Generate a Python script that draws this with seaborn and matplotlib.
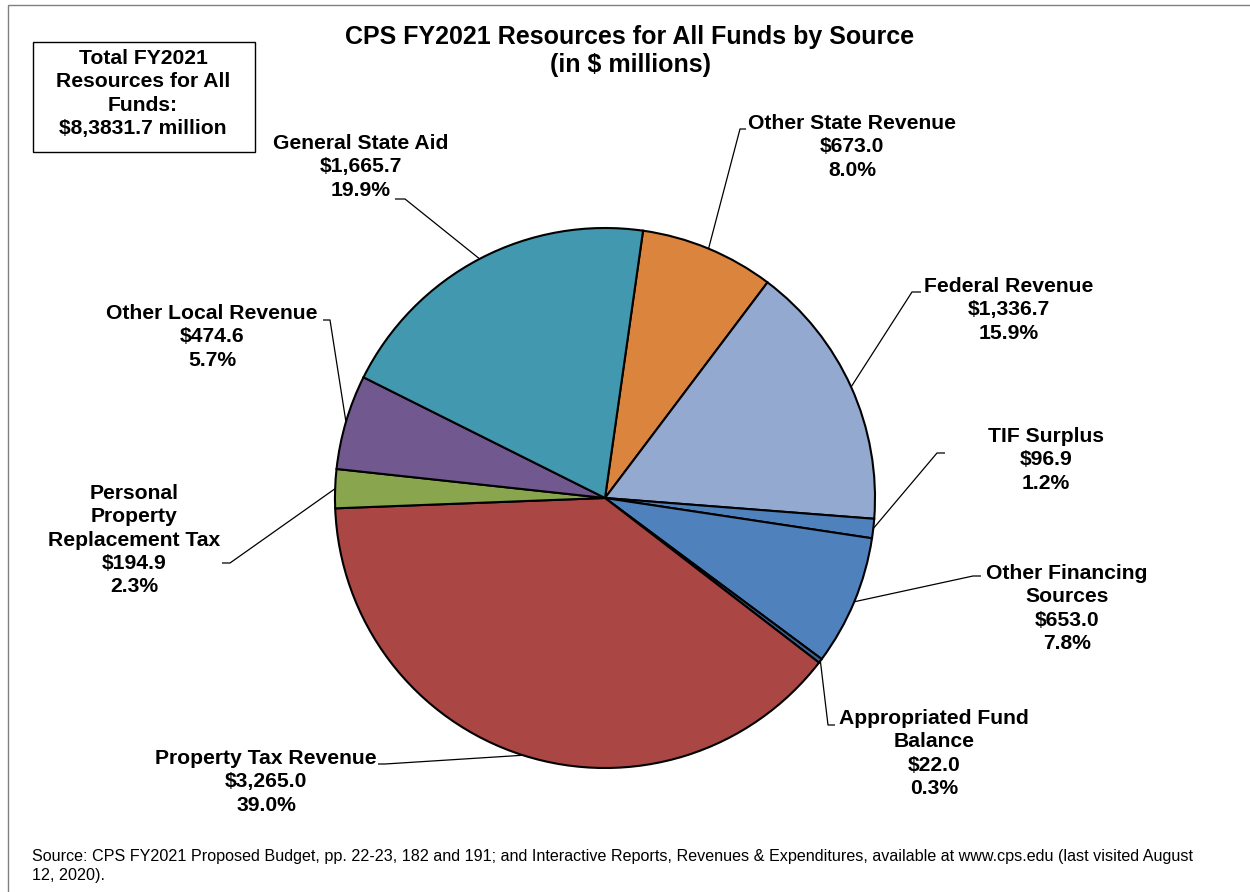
import matplotlib
matplotlib.use("Agg")
import matplotlib.pyplot as plt
import seaborn as sns
import numpy as np
from matplotlib.patches import Rectangle

# ---- data ----
categories = ["Other State Revenue", "Federal Revenue", "TIF Surplus",
              "Other Financing\nSources", "Appropriated Fund\nBalance",
              "Property Tax Revenue", "Personal\nProperty\nReplacement Tax",
              "Other Local Revenue", "General State Aid"]
values = [673.0, 1336.7, 96.9, 653.0, 22.0, 3265.0, 194.9, 474.6, 1665.7]
colors = ["#DB843D", "#93A9CF", "#4F81BD", "#4F81BD", "#3B6496",
          "#AA4643", "#89A54E", "#71588F", "#4198AF"]
title = "CPS FY2021 Resources for All Funds by Source\n(in $ millions)"
total_box = "Total FY2021\nResources for All\nFunds:\n$8,3831.7 million"
source = ("Source: CPS FY2021 Proposed Budget, pp. 22-23, 182 and 191; and Interactive Reports, "
          "Revenues & Expenditures, available at www.cps.edu (last visited August\n12, 2020).")

# ---- layout (pixels, y from top) ----
W, H = 1250, 892
center_px = (605, 498)
radius_px = 270
start_angle = 81.9
# label: (center x, first-line cap-top y)
label_pos = [(852, 115), (1009, 278), (1046, 428), (1067, 565), (934, 710),
             (266, 750), (134, 485), (212, 305), (361, 135)]
# leader: elbow point and end of short horizontal
elbows = [(740, 129), (912, 292), (937, 453), (973, 576), (828, 725),
          (385, 764), (230, 563), (330, 320), (405, 199)]
ends_x = [746, 921, 945, 981, 835, 378, 222, 323, 395]

sns.set_theme(style="white")
plt.rcParams["font.family"] = ["Liberation Sans", "DejaVu Sans"]

fig = plt.figure(figsize=(W / 100, H / 100), dpi=100)
ax = fig.add_axes([0, 0, 1, 1])

def P(x, y):
    return x, H - y

cx, cy = P(*center_px)
wedges, _ = ax.pie(values, colors=colors, startangle=start_angle, counterclock=False,
                   center=(cx, cy), radius=radius_px, frame=True,
                   wedgeprops=dict(edgecolor="black", linewidth=1.5))
ax.set_xlim(0, W)
ax.set_ylim(0, H)
ax.set_aspect("equal")
ax.axis("off")

total = sum(values)
lab_fs = 15.2
lab_ls = 1.29
for i, w in enumerate(wedges):
    mid = np.deg2rad((w.theta1 + w.theta2) / 2)
    ex, ey = cx + radius_px * np.cos(mid), cy + radius_px * np.sin(mid)
    bx, by = P(*elbows[i])
    hx = ends_x[i]
    ax.plot([ex, bx, hx], [ey, by, by], color="black", lw=0.9, solid_capstyle="butt", zorder=5)
    pct = values[i] / total * 100
    txt = f"{categories[i]}\n${values[i]:,.1f}\n{pct:.1f}%"
    lx, ly = P(label_pos[i][0], label_pos[i][1] - 1)
    ax.text(lx, ly, txt, ha="center", va="top", fontsize=lab_fs, fontweight="bold",
            linespacing=lab_ls, color="black")

# title
tx, ty = P(630, 25)
ax.text(tx, ty, title, ha="center", va="top", fontsize=18, fontweight="bold",
        linespacing=1.2, color="black")

# total box
ax.add_patch(Rectangle(P(33, 152), 222, 110, fill=False, edgecolor="black", lw=1.0, zorder=4))
bx, by = P(143, 49)
ax.text(bx, by, total_box, ha="center", va="top", fontsize=lab_fs, fontweight="bold",
        linespacing=lab_ls, color="black")

# chart border
ax.add_patch(Rectangle(P(8, 960), 1400, 955, fill=False, edgecolor="#808080", lw=1.0, zorder=1))

# source
sx, sy = P(32, 849)
ax.text(sx, sy, source, ha="left", va="top", fontsize=11.6,
        family=["Liberation Sans Narrow", "Liberation Sans", "DejaVu Sans"],
        linespacing=1.3, color="black")

fig.savefig("out.png", dpi=100, facecolor="white")
